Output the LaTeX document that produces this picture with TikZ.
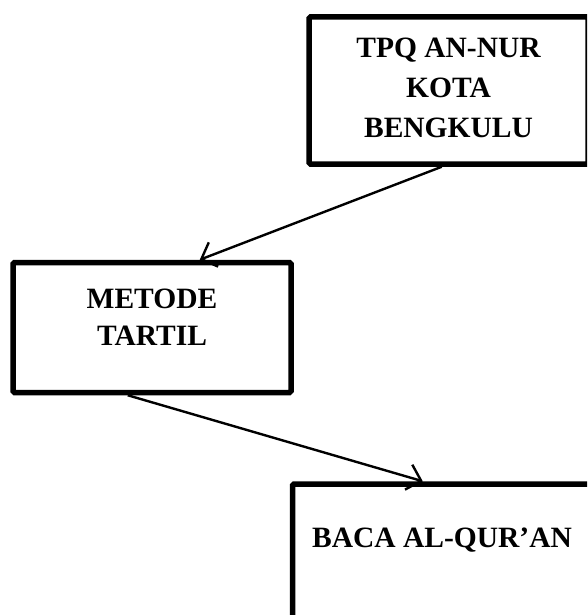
\documentclass[tikz,border=0pt]{standalone}
\usepackage{fontspec}
\setmainfont{Liberation Serif}
\usetikzlibrary{arrows.meta,calc}
\begin{document}
\begin{tikzpicture}[x=1pt,y=-1pt,
  boxstyle/.style={draw=black,line width=5.5pt,rectangle,inner sep=0pt,rounded corners=1.5pt},
  labelstyle/.style={font=\bfseries\fontsize{29.5}{39.5}\selectfont,align=center,inner sep=0pt,anchor=base},
  arrowstyle/.style={line width=2.4pt,-{Straight Barb[length=13pt,width=26pt]}}]
\useasboundingbox (0,0) rectangle (587,615);
\clip (0,0) rectangle (587,615);
\node[boxstyle,minimum width=279pt,minimum height=147pt] (box1) at (448.5,90.5) {};
\node[boxstyle,minimum width=278pt,minimum height=130pt] (box2) at (152,327.5) {};
\node[boxstyle,minimum width=299pt,minimum height=150pt] (box3) at (442,559) {};
\node[labelstyle] (t1) at (448.5,137) {TPQ AN-NUR\\KOTA\\BENGKULU};
\node[labelstyle,font=\bfseries\fontsize{29.5}{37}\selectfont] (t2) at (152,345) {METODE\\TARTIL};
\node[labelstyle] (t3) at (442,547) {BACA AL-QUR’AN};
\draw[arrowstyle] ($(box1.south west)+(135.5,0)$) -- ($(box2.north west)+(189.5,0)$);
\draw[arrowstyle] ($(box2.south west)+(117.5,0)$) -- ($(box3.north west)+(133,0)$);
\end{tikzpicture}
\end{document}
